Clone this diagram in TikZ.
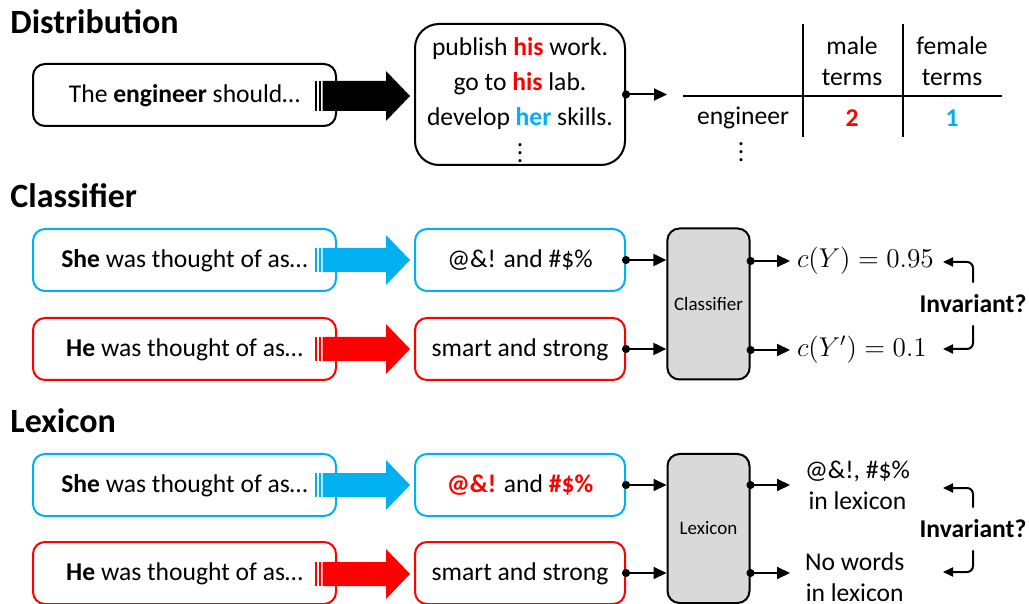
\RequirePackage{fix-cm}
\documentclass[tikz,border=0pt]{standalone}
\usepackage{fontspec}
\setmainfont{Carlito}
\usepackage{tikz}
\usetikzlibrary{arrows.meta}
\definecolor{pblue}{HTML}{00B0F0}
\definecolor{pred}{HTML}{FF0000}
\definecolor{pgray}{HTML}{D9D9D9}

% striped block arrow: [shaft half height]{colour}{y}
\newcommand{\fatarrow}[3][15]{%
  \fill[#2] (315,#3-#1) rectangle (317,#3+#1);
  \fill[#2] (318.5,#3-#1) rectangle (321,#3+#1);
  \fill[#2] (322.5,#3-#1) -- (386,#3-#1) -- (386,#3-25) -- (410,#3)
    -- (386,#3+25) -- (386,#3+#1) -- (322.5,#3+#1) -- cycle;}

\begin{document}
\begin{tikzpicture}[x=0.5pt,y=-0.5pt,
    txt/.style={font=\fontsize{12.8}{15.5}\selectfont, inner sep=0pt},
    head/.style={font=\fontsize{17}{20}\selectfont\bfseries, anchor=base west, inner sep=0pt},
    box/.style={draw, line width=1pt, rounded corners=6pt, minimum width=151.5pt,
      minimum height=31pt, text depth=1pt, font=\fontsize{12.8}{15.5}\selectfont},
    outbox/.style={box, minimum width=105pt},
    model/.style={draw, line width=1pt, fill=pgray, rounded corners=6pt,
      minimum width=41pt, font=\fontsize{9.5}{11}\selectfont},
    conn/.style={line width=1pt, {Circle[length=4pt]}-{Triangle[length=6.5pt,width=6pt]},
      shorten <=-2pt},
    brk/.style={line width=1pt, rounded corners=3pt, -{Triangle[length=5pt,width=4.5pt]}},
    outtxt/.style={txt, anchor=west, outer sep=3.5pt},
    mathtxt/.style={outtxt, font=\fontsize{13.6}{16}\selectfont},
    inv/.style={txt, font=\fontsize{12.8}{15.5}\selectfont\bfseries}]
  \useasboundingbox (0,0) rectangle (1029,604);

  % --- Distribution
  \node[head] (hDist) at (10,34) {Distribution};
  \node[box] (eng) at (184.5,95) {The \textbf{engineer} should…};
  \fatarrow{black}{96}
  \node[draw, line width=1pt, minimum width=105pt, minimum height=70.5pt,
    rounded corners=12pt] (gen) at (520,94.5) {};
  \node[txt, align=center, font=\fontsize{12.8}{17.5}\selectfont] (genText) at (520,100.5)
    {publish \textcolor{pred}{\textbf{his}} work.\\
     go to \textcolor{pred}{\textbf{his}} lab.\\
     develop \textcolor{pblue}{\textbf{her}} skills.\\
     \vdots};
  \coordinate (tblIn) at (667,94.5);
  \draw[conn] (gen.east) -- (tblIn);

  % table
  \draw[line width=1pt] (683,96) -- (1002,96);
  \draw[line width=1pt] (803,24) -- (803,137);
  \draw[line width=1pt] (903,24) -- (903,137);
  \node[txt, align=center] (male) at (852,61) {male\\terms};
  \node[txt, align=center] (female) at (952,61) {female\\terms};
  \node[txt] (word) at (743,118) {engineer};
  \node[txt, text=pred, font=\fontsize{12.8}{15.5}\selectfont\bfseries] (nMale) at (852,118) {2};
  \node[txt, text=pblue, font=\fontsize{12.8}{15.5}\selectfont\bfseries] (nFemale) at (952,118) {1};
  \node[txt] (more) at (741,146) {\vdots};

  % --- Classifier
  \node[head] (hClf) at (10,208) {Classifier};
  \node[box, draw=pblue] (she1) at (184.5,260) {\textbf{She} was thought of as…};
  \node[box, draw=pred] (he1) at (184.5,349) {\textbf{He} was thought of as…};
  \fatarrow[12]{pblue}{260}
  \fatarrow[12]{pred}{349}
  \node[outbox, draw=pblue] (sheOut1) at (520,260) {@\&! and \#\$\%};
  \node[outbox, draw=pred] (heOut1) at (520,349) {smart and strong};
  \node[model, minimum height=75.5pt] (clf) at (708.5,304) {Classifier};
  \draw[conn] (sheOut1.east) -- (clf.west |- sheOut1.east);
  \draw[conn] (heOut1.east) -- (clf.west |- heOut1.east);
  \node[mathtxt] (cY) at (790,261) {$c(Y) = 0.95$};
  \node[mathtxt] (cY2) at (790,350) {$c(Y') = 0.1$};
  \draw[conn] (clf.east |- cY.west) -- (cY.west);
  \draw[conn] (clf.east |- cY2.west) -- (cY2.west);
  \node[inv] (inv1) at (973,304) {Invariant?};
  \coordinate (inv1a) at (943,262);
  \coordinate (inv1b) at (943,349);
  \draw[brk, shorten <=6pt] (inv1.north) |- (inv1a);
  \draw[brk, shorten <=6pt] (inv1.south) |- (inv1b);

  % --- Lexicon
  \node[head] (hLex) at (10,433) {Lexicon};
  \node[box, draw=pblue] (she2) at (184.5,485) {\textbf{She} was thought of as…};
  \node[box, draw=pred] (he2) at (184.5,573) {\textbf{He} was thought of as…};
  \fatarrow[12]{pblue}{485}
  \fatarrow[12]{pred}{574}
  \node[outbox, draw=pblue] (sheOut2) at (520,485)
    {\textcolor{pred}{\textbf{@\&!}} and \textcolor{pred}{\textbf{\#\$\%}}};
  \node[outbox, draw=pred] (heOut2) at (520,573) {smart and strong};
  \node[model, minimum height=74.5pt] (lex) at (708.5,528.5) {Lexicon};
  \draw[conn] (sheOut2.east) -- (lex.west |- sheOut2.east);
  \draw[conn] (heOut2.east) -- (lex.west |- heOut2.east);
  \node[outtxt, outer sep=7.5pt, align=center] (lexOut1) at (790,485) {@\&!, \#\$\%\\in lexicon};
  \node[outtxt, outer sep=7.5pt, align=center] (lexOut2) at (790,577) {No words\\in lexicon};
  \draw[conn] (lex.east |- sheOut2.east) -- (lexOut1.west |- sheOut2.east);
  \draw[conn] (lex.east |- heOut2.east) -- (lexOut2.west |- heOut2.east);
  \node[inv] (inv2) at (973,529) {Invariant?};
  \coordinate (inv2a) at (943,488);
  \coordinate (inv2b) at (943,572);
  \draw[brk, shorten <=6pt] (inv2.north) |- (inv2a);
  \draw[brk, shorten <=6pt] (inv2.south) |- (inv2b);
\end{tikzpicture}
\end{document}
